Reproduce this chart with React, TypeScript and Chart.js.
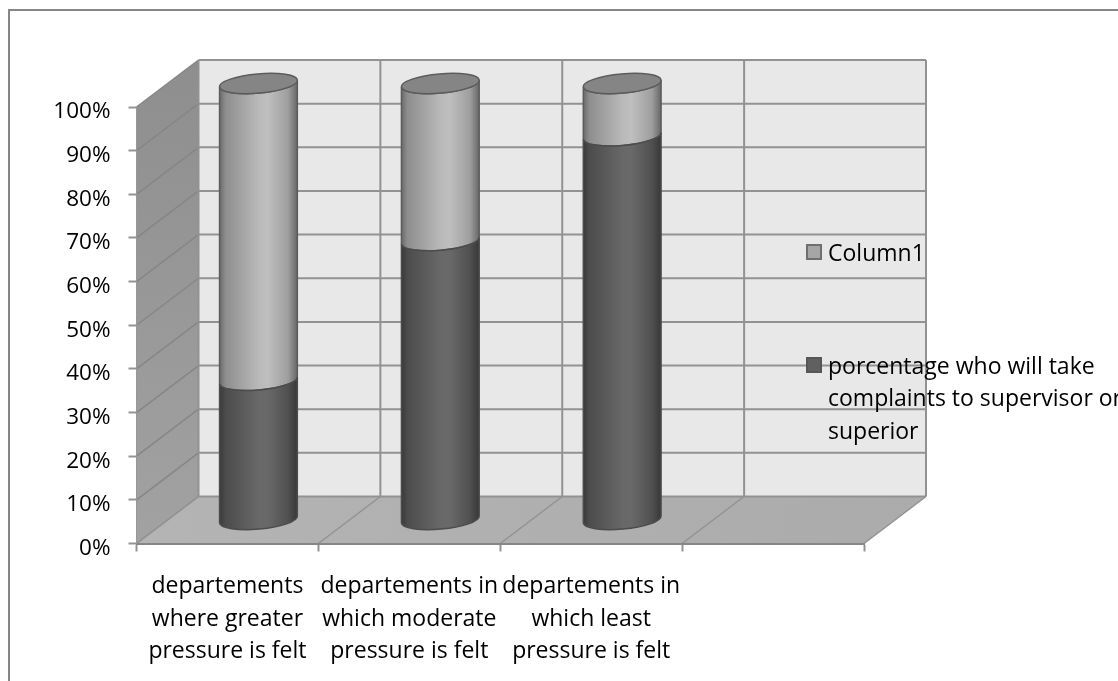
import React, { useEffect, useRef } from "react";
import { Chart, BarController, BarElement, CategoryScale, LinearScale } from "chart.js";

// Category labels, one line per array entry; the fourth slot is an empty category.
const categories: string[][] = [
  ["departements", "where greater", "pressure is felt"],
  ["departements in", "which moderate", "pressure is felt"],
  ["departements in", "which least", "pressure is felt"],
  [""],
];
const complaintsShare: (number | null)[] = [32, 64, 88, null];
const column1Share: (number | null)[] = [68, 36, 12, null];

const complaintsName = "porcentage who will take complaints to supervisor or superior";
const column1Name = "Column1";
const complaintsLegendLines = ["porcentage who will take", "complaints to supervisor or", "superior"];
const column1LegendLines = [column1Name];

const FONT = "'Open Sans'";
const FONT_SIZE = 23;
const TICK_FONT_SIZE = 22.5;
const DEPTH_X = 62;
const DEPTH_Y = -47;
const GRID = "#929292";

const SHADES: Record<string, string[]> = {
  "#a6a6a6": ["#6a6a6a", "#8e8e8e", "#b9b9b9", "#bfbfbf", "#9e9e9e", "#666666"],
  "#606060": ["#393939", "#4c4c4c", "#686868", "#696969", "#505050", "#373737"],
};
const SHADE_STOPS = [0, 0.08, 0.5, 0.62, 0.88, 1];

// Bar element drawn as one stacked slice of a cylinder standing mid-way into the depth of the box.
class CylinderElement extends BarElement {
  static id = "cylinder";
  static defaults = { ...BarElement.defaults, capColor: null };

  draw(ctx: CanvasRenderingContext2D) {
    const { x, y, base, width } = (this as any).getProps(["x", "y", "base", "width"]);
    const o = (this as any).options;
    const cx = x + DEPTH_X / 2;
    const top = y + DEPTH_Y / 2;
    const bottom = base + DEPTH_Y / 2;
    const rx = width / 2;
    const ry = 9.6;
    const tilt = (-5 * Math.PI) / 180;

    const shade = ctx.createLinearGradient(cx - rx, 0, cx + rx, 0);
    SHADES[o.backgroundColor].forEach((c, i) => shade.addColorStop(SHADE_STOPS[i], c));

    ctx.save();
    ctx.beginPath();
    ctx.ellipse(cx, top, rx, ry, tilt, 0, Math.PI, false);
    ctx.ellipse(cx, bottom, rx, ry, tilt, Math.PI, 0, true);
    ctx.closePath();
    ctx.fillStyle = shade;
    ctx.fill();
    ctx.strokeStyle = o.borderColor;
    ctx.lineWidth = o.borderWidth;
    ctx.stroke();

    if (o.capColor) {
      ctx.beginPath();
      ctx.ellipse(cx, top, rx, ry, tilt, 0, Math.PI * 2);
      ctx.fillStyle = o.capColor;
      ctx.fill();
      ctx.stroke();
    }
    ctx.restore();
  }
}

class CylinderController extends BarController {
  static id = "cylinder";
  static defaults = { ...BarController.defaults, dataElementType: "cylinder" };
  static overrides = BarController.overrides;
}

Chart.register(CylinderController, CylinderElement, CategoryScale, LinearScale);

// White page, frame and the three faces of the box: side wall, back wall and floor.
const boxPlugin = {
  id: "box",
  beforeDraw(chart: any) {
    const { ctx, width, height, scales } = chart;
    const xs = scales.x;
    const ys = scales.y;
    const l = xs.left;
    const r = xs.right;
    const y0 = ys.getPixelForValue(0);
    const y100 = ys.getPixelForValue(100);
    ctx.save();
    ctx.fillStyle = "#ffffff";
    ctx.fillRect(0, 0, width, height);
    ctx.strokeStyle = "#868686";
    ctx.lineWidth = 2;
    ctx.strokeRect(9, 10, width + 20, height + 20);

    const poly = (pts: number[][], fill: string | CanvasGradient) => {
      ctx.beginPath();
      pts.forEach(([px, py], i) => (i ? ctx.lineTo(px, py) : ctx.moveTo(px, py)));
      ctx.closePath();
      ctx.fillStyle = fill;
      ctx.fill();
    };
    const seg = (x1: number, y1: number, x2: number, y2: number, w: number, color = GRID) => {
      ctx.beginPath();
      ctx.moveTo(x1, y1);
      ctx.lineTo(x2, y2);
      ctx.lineWidth = w;
      ctx.strokeStyle = color;
      ctx.stroke();
    };

    const floorShade = ctx.createLinearGradient(l, 0, r + DEPTH_X, 0);
    floorShade.addColorStop(0, "#b4b4b4");
    floorShade.addColorStop(1, "#ababab");
    const wallShade = ctx.createLinearGradient(0, y100 + DEPTH_Y, 0, y0);
    wallShade.addColorStop(0, "#8e8e8e");
    wallShade.addColorStop(1, "#a2a2a2");

    poly([[l, y0], [l + DEPTH_X, y0 + DEPTH_Y], [l + DEPTH_X, y100 + DEPTH_Y], [l, y100]], wallShade);
    poly([[l + DEPTH_X, y0 + DEPTH_Y], [r + DEPTH_X, y0 + DEPTH_Y], [r + DEPTH_X, y100 + DEPTH_Y], [l + DEPTH_X, y100 + DEPTH_Y]], "#e8e8e8");
    poly([[l, y0], [r, y0], [r + DEPTH_X, y0 + DEPTH_Y], [l + DEPTH_X, y0 + DEPTH_Y]], floorShade);

    ys.ticks.forEach((t: any) => {
      const py = ys.getPixelForValue(t.value);
      seg(l, py, l + DEPTH_X, py + DEPTH_Y, 1.5, t.value > 0 ? "#868686" : GRID);
      seg(l + DEPTH_X, py + DEPTH_Y, r + DEPTH_X, py + DEPTH_Y, 2);
    });
    for (let i = 0; i <= categories.length; i++) {
      const px = xs.getPixelForValue(i - 0.5);
      seg(px, y0, px + DEPTH_X, y0 + DEPTH_Y, 1.5);
      seg(px + DEPTH_X, y0 + DEPTH_Y, px + DEPTH_X, y100 + DEPTH_Y, 2);
    }
    ctx.restore();
  },
};

// Legend entries placed to the right of the columns, overlapping the back wall.
const legendPlugin = {
  id: "sideLegend",
  afterDraw(chart: any) {
    const { ctx } = chart;
    const entries = [
      { lines: column1LegendLines, fill: "#a6a6a6", edge: "#6f6f6f", top: 244 },
      { lines: complaintsLegendLines, fill: "#606060", edge: "#565656", top: 357 },
    ];
    ctx.save();
    ctx.font = `${FONT_SIZE}px ${FONT}`;
    ctx.textBaseline = "middle";
    entries.forEach((e) => {
      ctx.fillStyle = e.fill;
      ctx.strokeStyle = e.edge;
      ctx.lineWidth = 2;
      ctx.fillRect(807, e.top + 1, 14, 14);
      ctx.strokeRect(807, e.top + 1, 14, 14);
      ctx.fillStyle = "#000000";
      e.lines.forEach((line, i) => ctx.fillText(line, 828, e.top + 10 + i * 32.5));
    });
    ctx.restore();
  },
};

export default function App() {
  const ref = useRef<HTMLCanvasElement | null>(null);

  useEffect(() => {
    const chart = new Chart(ref.current as HTMLCanvasElement, {
      type: "cylinder" as any,
      data: {
        labels: categories as any,
        datasets: [
          {
            label: complaintsName,
            data: complaintsShare,
            backgroundColor: "#606060",
            borderColor: "#4c4c4c",
            borderWidth: 1.5,
            barPercentage: 78 / 181.75,
            categoryPercentage: 1,
            clip: false,
          },
          {
            label: column1Name,
            data: column1Share,
            backgroundColor: "#a6a6a6",
            borderColor: "#5c5c5c",
            borderWidth: 1.5,
            capColor: "#858585",
            barPercentage: 78 / 181.75,
            categoryPercentage: 1,
            clip: false,
          },
        ] as any,
      },
      options: {
        responsive: false,
        animation: false,
        layout: { padding: { left: 0, top: 107, right: 254, bottom: 0 } },
        plugins: { legend: { display: false }, tooltip: { enabled: false } },
        scales: {
          x: {
            type: "category",
            offset: true,
            stacked: true,
            afterFit: (s: any) => {
              s.height = 137.5;
            },
            grid: { offset: true, drawOnChartArea: false, drawTicks: true, tickLength: 8, tickWidth: 2, tickColor: GRID },
            border: { color: "#868686", width: 2 },
            ticks: {
              autoSkip: false,
              maxRotation: 0,
              minRotation: 0,
              padding: 19,
              color: "#000000",
              font: { family: FONT, size: FONT_SIZE, lineHeight: 32.5 / FONT_SIZE },
            },
          },
          y: {
            type: "linear",
            stacked: true,
            min: 0,
            max: 100,
            afterFit: (s: any) => {
              s.width = 136.5;
            },
            grid: { drawOnChartArea: false, drawTicks: true, tickLength: 8, tickWidth: 2, tickColor: GRID },
            border: { color: "#979797", width: 1 },
            ticks: {
              stepSize: 10,
              padding: 18,
              color: "#000000",
              // A blank first line with a tight line height sets the labels just below their ticks.
              font: { family: FONT, size: TICK_FONT_SIZE, lineHeight: 10 / TICK_FONT_SIZE },
              callback: (v: any) => ["", `${v}%`],
            },
          },
        },
      } as any,
      plugins: [boxPlugin, legendPlugin],
    });
    return () => chart.destroy();
  }, []);

  return (
    <div style={{ position: "absolute", left: 0, top: 0, width: 1118, height: 681, overflow: "hidden" }}>
      <canvas ref={ref} width={1118} height={681} style={{ display: "block" }} />
    </div>
  );
}
